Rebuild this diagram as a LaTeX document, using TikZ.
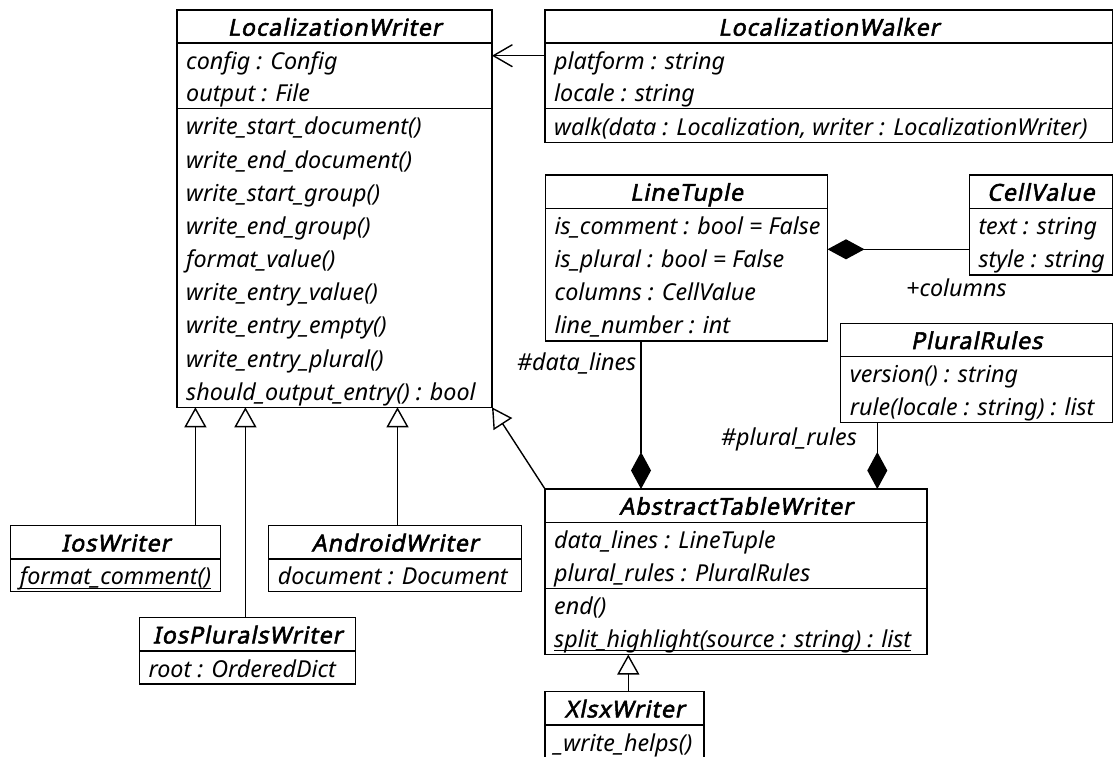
\documentclass[tikz,border=0pt]{standalone}
\usepackage{fontspec}
\setmainfont{Noto Sans}
\newfontfamily\headfam{Noto Sans}[AutoFakeBold=2.2, AutoFakeSlant=0.2, LetterSpace=4]
\usetikzlibrary{arrows.meta,calc}

\newcommand\rowfont{\fontsize{23.3}{27}\selectfont\itshape}
\newcommand\hdfont{\fontsize{23.3}{27}\selectfont\headfam\bfseries\itshape}

% class frame: name, x, y, width, height
\newcommand\clsbox[5]{\node[cls, minimum width=#4pt, minimum height=#5pt] (#1) at (#2,#3) {};}
% horizontal rule inside a class, #2 = offset below the top
\newcommand\clsrule[2]{\draw[sep] ($(#1.north west)+(0,#2)$) -- ($(#1.north east)+(0,#2)$);}
% class title, #2 = node name, #3 = text
\newcommand\clstitle[3]{\node[ttl] (#2) at ($(#1.north)+(0,25.7)$) {#3};}
% member line: node name, class, baseline offset below the top, text
\newcommand\member[4]{\node[row] (#1) at ($(#2.north west)+(9,#3)$) {#4};}
% underline for static members
\newcommand\staticline[1]{\draw[line width=1.3pt] ($(#1.base west)+(0,3.5)$) -- ($(#1.base east)+(0,3.5)$);}

\tikzset{
  cls/.style={draw, line width=1.4pt, fill=white, anchor=north west, inner sep=0pt, outer sep=0pt},
  sep/.style={line width=1.4pt},
  ttl/.style={font=\hdfont, anchor=base, inner sep=0pt},
  row/.style={font=\rowfont, anchor=base west, inner sep=0pt},
  lbl/.style={font=\rowfont, inner sep=0pt},
  gen/.style={line width=1.4pt, -{Triangle[open, fill=white, length=20pt, width=22pt]}},
  comp/.style={line width=1.4pt, -{Diamond[length=37pt, width=20pt]}},
  assoc/.style={line width=1.4pt, -{Straight Barb[length=19pt, width=22pt]}},
}

\begin{document}
\begin{tikzpicture}[x=1pt, y=-1pt]
\useasboundingbox[fill=white] (0,0) rectangle (1113,756);

% LocalizationWriter
\clsbox{lw}{177}{10}{315}{397.3}
\clsrule{lw}{33}
\clsrule{lw}{98.7}
\clstitle{lw}{lwT}{LocalizationWriter}
\member{lw1}{lw}{59}{config : Config}
\member{lw2}{lw}{91.8}{output : File}
\member{lw3}{lw}{124.8}{write\_start\_document()}
\member{lw4}{lw}{158}{write\_end\_document()}
\member{lw5}{lw}{191.2}{write\_start\_group()}
\member{lw6}{lw}{224.3}{write\_end\_group()}
\member{lw7}{lw}{257.5}{format\_value()}
\member{lw8}{lw}{290.7}{write\_entry\_value()}
\member{lw9}{lw}{323.9}{write\_entry\_empty()}
\member{lw10}{lw}{357.1}{write\_entry\_plural()}
\member{lw11}{lw}{390.2}{should\_output\_entry() : bool}

% LocalizationWalker
\clsbox{wk}{545}{10}{567.5}{132.7}
\clsrule{wk}{33}
\clsrule{wk}{98.7}
\clstitle{wk}{wkT}{LocalizationWalker}
\member{wk1}{wk}{59}{platform : string}
\member{wk2}{wk}{91.8}{locale : string}
\member{wk3}{wk}{125.2}{walk(data : Localization, writer : LocalizationWriter)}

% LineTuple
\clsbox{lt}{545.5}{175}{282}{166}
\clsrule{lt}{33.3}
\clstitle{lt}{ltT}{LineTuple}
\member{lt1}{lt}{59.4}{is\_comment : bool = False}
\member{lt2}{lt}{92.6}{is\_plural : bool = False}
\member{lt3}{lt}{125.7}{columns : CellValue}
\member{lt4}{lt}{158.9}{line\_number : int}

% CellValue
\clsbox{cv}{969.3}{175}{143}{100}
\clsrule{cv}{33.3}
\clstitle{cv}{cvT}{CellValue}
\member{cv1}{cv}{59.5}{text : string}
\member{cv2}{cv}{92.8}{style : string}

% PluralRules
\clsbox{pr}{840.7}{323.3}{271.7}{99}
\clsrule{pr}{33.2}
\clstitle{pr}{prT}{PluralRules}
\member{pr1}{pr}{59.2}{version() : string}
\member{pr2}{pr}{92.2}{rule(locale : string) : list}

% AbstractTableWriter
\clsbox{atw}{545}{489}{382}{165.5}
\clsrule{atw}{33.3}
\clsrule{atw}{99.3}
\clstitle{atw}{atwT}{AbstractTableWriter}
\member{atw1}{atw}{59.3}{data\_lines : LineTuple}
\member{atw2}{atw}{92.3}{plural\_rules : PluralRules}
\member{atw3}{atw}{125.3}{end()}
\member{atw4}{atw}{158.3}{split\_highlight(source : string) : list}
\staticline{atw4}

% IosWriter
\clsbox{ios}{10.7}{525.7}{210}{66}
\clsrule{ios}{33.3}
\clstitle{ios}{iosT}{IosWriter}
\member{ios1}{ios}{59.1}{format\_comment()}
\staticline{ios1}

% AndroidWriter
\clsbox{and}{268.6}{525.7}{252.8}{66}
\clsrule{and}{33.3}
\clstitle{and}{andT}{AndroidWriter}
\member{and1}{and}{59.1}{document : Document}

% IosPluralsWriter
\clsbox{ipw}{139.3}{617.7}{216.4}{66.3}
\clsrule{ipw}{33.3}
\clstitle{ipw}{ipwT}{IosPluralsWriter}
\member{ipw1}{ipw}{59.3}{root : OrderedDict}

% XlsxWriter
\clsbox{xl}{545}{691.7}{159}{68}
\clsrule{xl}{33.3}
\clstitle{xl}{xlT}{XlsxWriter}
\member{xl1}{xl}{59.3}{\_write\_helps()}

% association: walker uses writer
\draw[assoc] ($(wk.north west)+(0,45.7)$) -- ($(lw.north east)+(0,45.7)$);

% generalizations
\coordinate (iosTop) at ($(ios.north west)+(184.7,0)$);
\coordinate (ipwTop) at ($(ipw.north west)+(106.1,0)$);
\coordinate (andTop) at ($(and.north west)+(128.9,0)$);
\coordinate (xlTop)  at ($(xl.north west)+(83.3,0)$);
\draw[gen] (iosTop) -- (iosTop |- lw.south);
\draw[gen] (ipwTop) -- (ipwTop |- lw.south);
\draw[gen] (andTop) -- (andTop |- lw.south);
\draw[gen] (atw.north west) -- (lw.south east);
\draw[gen] (xlTop) -- (xlTop |- atw.south);

% compositions
\coordinate (ltBot) at ($(lt.south west)+(95.5,0)$);
\coordinate (prBot) at ($(pr.south west)+(36.6,0)$);
\coordinate (cvLeft) at ($(cv.north west)+(0,74.3)$);
\draw[comp] (ltBot) -- (ltBot |- atw.north);
\draw[comp] (prBot) -- (prBot |- atw.north);
\draw[comp] (cvLeft) -- (cvLeft -| lt.east);

% role names
\node[lbl, anchor=base east] (roleData) at (636.5,370.5) {\#data\_lines};
\node[lbl, anchor=base east] (rolePlural) at (857,445) {\#plural\_rules};
\node[lbl, anchor=base west] (roleCols) at (906,296) {+columns};
\end{tikzpicture}
\end{document}
